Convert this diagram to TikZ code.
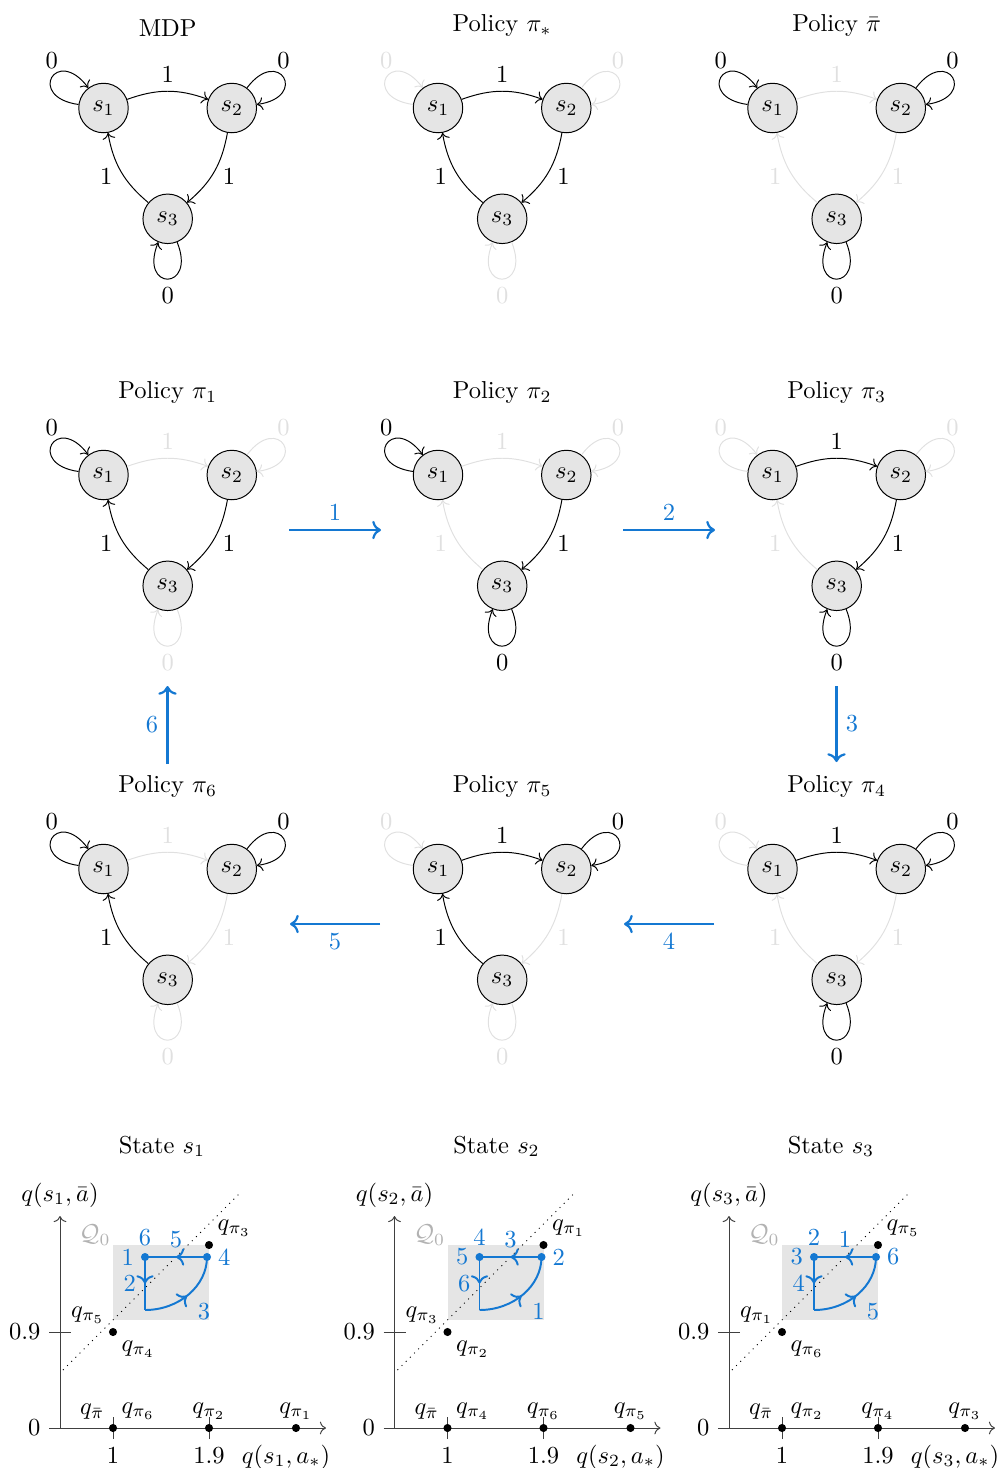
\documentclass[tikz,border=0pt]{standalone}
\usepackage{amsmath}
\usetikzlibrary{arrows.meta,decorations.markings}
\definecolor{mblue}{RGB}{20,120,210}
\tikzset{
  st/.style={circle,draw=black,fill=black!10,minimum size=20.2pt,inner sep=0pt,text=black},
  on/.style={color=black},
  off/.style={color=black!12},
  ttl/.style={anchor=south},
  barrow/.style={draw=mblue,line width=0.9pt,->},
  blab/.style={text=mblue},
  axisln/.style={draw=black!75,line width=0.4pt},
  dot/.style={circle,fill=black,inner sep=0pt,minimum size=3.3pt},
  bdot/.style={circle,fill=mblue,inner sep=0pt,minimum size=3.3pt},
  bpath/.style={draw=mblue,line width=0.8pt},
  midarrow/.style={postaction={decorate},decoration={markings,mark=at position 0.5 with {\arrow{>}}}},
}
% policy graph: #1 prefix, #2 title, #3 loop s1, #4 s1->s2, #5 loop s2, #6 s2->s3, #7 s3->s1, #8 loop s3
\newcommand{\pgraph}[8]{%
  \node[st] (#1a) at (0,0) {$s_1$};
  \node[st] (#1b) at (128.3,0) {$s_2$};
  \node[st] (#1c) at (64.2,-110.8) {$s_3$};
  \node[ttl] (#1t) at (64.2,62.5) {#2};
  \draw[->,#3] (#1a.172) .. controls +(172:53) and +(127:53) .. node[above]{$0$} (#1a.127);
  \draw[->,#5] (#1b.53) .. controls +(53:53) and +(8:53) .. node[above]{$0$} (#1b.8);
  \draw[->,#8] (#1c.-68) .. controls +(-68:53) and +(-112:53) .. node[below]{$0$} (#1c.-112);
  \path[->] (#1a) edge[#4, bend left=20] node[above]{$1$} (#1b)
    (#1b) edge[#6, bend left=20] node[right,yshift=-2pt]{$1$} (#1c)
    (#1c) edge[#7, bend left=20] node[left,yshift=-2pt]{$1$} (#1a);
}
% plot frame: #1 prefix, #2 state index
\newcommand{\qframe}[2]{%
  \coordinate (#1O) at (0,0);
  \fill[black!10] (53,108) rectangle (149,183);
  \node[text=black!30] (#1Q) at (35,193) {$\mathcal{Q}_0$};
  \draw[dotted,line width=0.4pt] (3,58) -- (180,235);
  \coordinate (#1X) at (266,0);
  \coordinate (#1Y) at (0,212);
  \draw[axisln,->] (#1O) -- (#1X);
  \draw[axisln,->] (#1O) -- (#1Y);
  \draw[axisln] (-11,0) -- (11,0);
  \draw[axisln] (-11,96) -- (11,96);
  \draw[axisln] (53,-11) -- (53,11);
  \draw[axisln] (149,-11) -- (149,11);
  \node[left] (#1t0) at (-11,0) {$0$};
  \node[left] (#1t9) at (-11,96) {$0.9$};
  \node[below] (#1t1) at (53,-11) {$1$};
  \node[below] (#1t19) at (149,-11) {$1.9$};
  \node[above] (#1ya) at (0,212) {$q(s_#2,\bar a)$};
  \node (#1xa) at (226,-29) {$q(s_#2,a_*)$};
  \node[anchor=base] (#1T) at (102,275) {State $s_#2$};
  \node[dot] (#1A) at (53,0) {};
  \node[dot] (#1B) at (149,0) {};
  \node[dot] (#1C) at (236,0) {};
  \node[dot] (#1D) at (53,96) {};
  \node[dot] (#1E) at (149,183) {};
}
% point labels: #1 prefix, #2 at A right, #3 at B, #4 at C, #5 D above left, #6 D below right, #7 E
\newcommand{\qlabels}[7]{%
  \node[above left] (#1la) at (#1A) {$q_{\bar\pi}$};
  \node[above right] (#1lb) at (#1A) {$q_{\pi_#2}$};
  \node[above] (#1lc) at (#1B) {$q_{\pi_#3}$};
  \node[above] (#1ld) at (#1C) {$q_{\pi_#4}$};
  \node[above left] (#1le) at (#1D) {$q_{\pi_#5}$};
  \node[below right] (#1lf) at (#1D) {$q_{\pi_#6}$};
  \node[above right] (#1lg) at (#1E) {$q_{\pi_#7}$};
}
% blue cycle: #1 prefix, #2 top, #3 left, #4 vertical, #5 curve, #6 right, #7 horizontal
\newcommand{\qblue}[7]{%
  \coordinate (#1K) at (85,118);
  \coordinate (#1Lc) at (85,171);
  \coordinate (#1Rc) at (147,171);
  \draw[bpath,midarrow] (#1Lc) -- node[blab,left]{#4} (#1K);
  \draw[bpath,midarrow] (#1K) .. controls +(34,0) and +(0,-29) .. node[blab,below right]{#5} (#1Rc);
  \draw[bpath,midarrow] (#1Rc) -- node[blab,above]{#7} (#1Lc);
  \node[bdot] (#1L) at (#1Lc) {};
  \node[bdot] (#1R) at (#1Rc) {};
  \node[blab,above,inner sep=2.5pt] (#1n1) at (#1L.north) {#2};
  \node[blab,left,inner sep=2.5pt] (#1n2) at (#1L.west) {#3};
  \node[blab,right,inner sep=2.5pt] (#1n5) at (#1R.east) {#6};
}
\begin{document}
\begin{tikzpicture}[x=0.01434cm,y=0.01434cm]
\useasboundingbox (0,0) rectangle (1003,-1468);
% row 1
\begin{scope}[shift={(103.5,-108)}]
  \pgraph{m}{MDP}{on}{on}{on}{on}{on}{on}
\end{scope}
\begin{scope}[shift={(438,-108)}]
  \pgraph{ps}{Policy $\pi_*$}{off}{on}{off}{on}{on}{off}
\end{scope}
\begin{scope}[shift={(772.5,-108)}]
  \pgraph{pb}{Policy $\bar\pi$}{on}{off}{on}{off}{off}{on}
\end{scope}
% row 2
\begin{scope}[shift={(103.5,-475)}]
  \pgraph{pa}{Policy $\pi_1$}{on}{off}{off}{on}{on}{off}
\end{scope}
\begin{scope}[shift={(438,-475)}]
  \pgraph{pc}{Policy $\pi_2$}{on}{off}{off}{on}{off}{on}
\end{scope}
\begin{scope}[shift={(772.5,-475)}]
  \pgraph{pd}{Policy $\pi_3$}{off}{on}{off}{on}{off}{on}
\end{scope}
% row 3
\begin{scope}[shift={(103.5,-869)}]
  \pgraph{pf}{Policy $\pi_6$}{on}{off}{on}{off}{on}{off}
\end{scope}
\begin{scope}[shift={(438,-869)}]
  \pgraph{pe}{Policy $\pi_5$}{off}{on}{on}{off}{on}{off}
\end{scope}
\begin{scope}[shift={(772.5,-869)}]
  \pgraph{pg}{Policy $\pi_4$}{off}{on}{on}{off}{off}{on}
\end{scope}
% blue transitions
\coordinate (a1s) at (289,-530); \coordinate (a1e) at (381,-530);
\draw[barrow] (a1s) -- node[blab,above]{1} (a1e);
\coordinate (a2s) at (623,-530); \coordinate (a2e) at (715,-530);
\draw[barrow] (a2s) -- node[blab,above]{2} (a2e);
\coordinate (a3s) at (836.5,-686); \coordinate (a3e) at (836.5,-762);
\draw[barrow] (a3s) -- node[blab,right]{3} (a3e);
\coordinate (a4s) at (714,-924); \coordinate (a4e) at (624,-924);
\draw[barrow] (a4s) -- node[blab,below]{4} (a4e);
\coordinate (a5s) at (380,-924); \coordinate (a5e) at (290,-924);
\draw[barrow] (a5s) -- node[blab,below]{5} (a5e);
\coordinate (a6s) at (167.5,-764); \coordinate (a6e) at (167.5,-686);
\draw[barrow] (a6s) -- node[blab,left]{6} (a6e);
% plots
\begin{scope}[shift={(60,-1428)}]
  \qframe{qa}{1}
  \qlabels{qa}{6}{2}{1}{5}{4}{3}
  \qblue{qa}{6}{1}{2}{3}{4}{5}
\end{scope}
\begin{scope}[shift={(394.5,-1428)}]
  \qframe{qb}{2}
  \qlabels{qb}{4}{6}{5}{3}{2}{1}
  \qblue{qb}{4}{5}{6}{1}{2}{3}
\end{scope}
\begin{scope}[shift={(729,-1428)}]
  \qframe{qc}{3}
  \qlabels{qc}{2}{4}{3}{1}{6}{5}
  \qblue{qc}{2}{3}{4}{5}{6}{1}
\end{scope}
\end{tikzpicture}
\end{document}
